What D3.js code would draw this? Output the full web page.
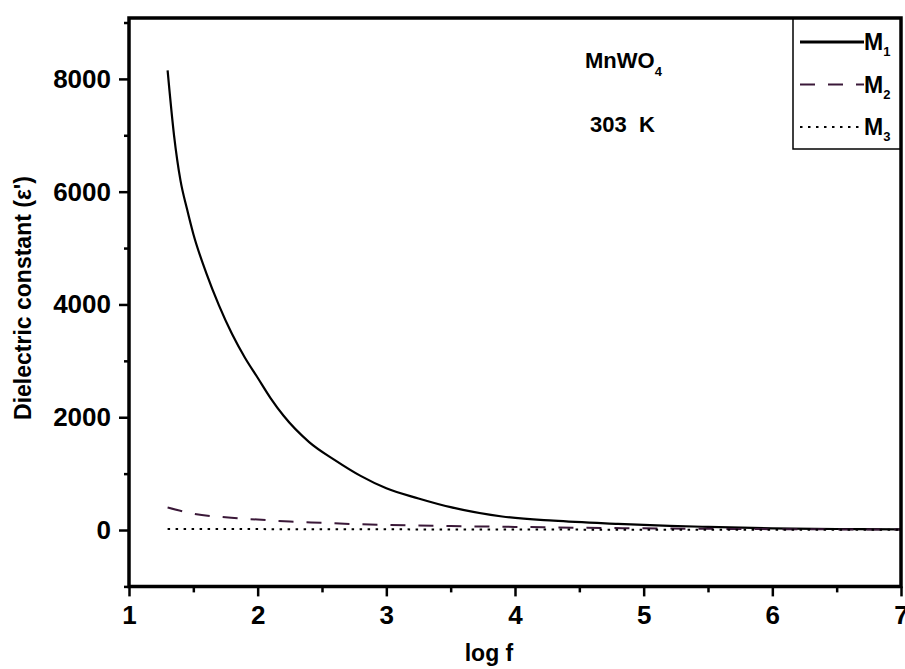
<!DOCTYPE html>
<html>
<head>
<meta charset="utf-8">
<script src="https://cdn.jsdelivr.net/npm/d3@7"></script>
<style>
  body { margin: 0; background: #fff; }
  svg { display: block; font-family: "Liberation Sans", Arial, sans-serif; font-weight: bold; }
</style>
</head>
<body>
<div id="chart"></div>
<script>
const width = 905, height = 669;

// log f values and dielectric constant for each sample
const m1_logf = [1.3, 1.35, 1.4, 1.45, 1.5, 1.6, 1.7, 1.8, 1.9, 2.0, 2.1, 2.2, 2.4, 2.6, 2.8, 3.0, 3.25, 3.5, 3.9, 4.3, 4.8, 5.2, 5.5, 6.0, 6.5, 7.0];
const m1_eps  = [8150, 7000, 6200, 5700, 5250, 4560, 3980, 3480, 3060, 2700, 2340, 2030, 1560, 1240, 960, 740, 560, 405, 240, 165, 110, 75, 55, 30, 18, 10];

const m2_logf = [1.3, 1.5, 1.75, 2.0, 2.25, 2.5, 2.75, 3.0, 3.5, 4.0, 4.5, 5.0, 6.0, 7.0];
const m2_eps  = [400, 290, 225, 185, 150, 128, 105, 92, 70, 55, 40, 30, 15, 8];

const m3_logf = [1.3, 2.0, 3.0, 4.0, 5.0, 6.0, 7.0];
const m3_eps  = [20, 16, 12, 8, 6, 4, 3];

const x_ticks = [1, 2, 3, 4, 5, 6, 7];
const y_ticks = [0, 2000, 4000, 6000, 8000];

const series = [
  {name: 'M', sub: '1', xs: m1_logf, ys: m1_eps, dash: null,      color: '#000',    sw: 2.2},
  {name: 'M', sub: '2', xs: m2_logf, ys: m2_eps, dash: '15,13',   color: '#3a1838', sw: 2},
  {name: 'M', sub: '3', xs: m3_logf, ys: m3_eps, dash: '2.5,5.5', color: '#000',    sw: 2},
];

const plot = {left: 129, right: 901, top: 18, bottom: 586.4};

const x = d3.scaleLinear().domain([1, 7]).range([plot.left, plot.right]);
const y = d3.scaleLinear().domain([-1000, 9080]).range([plot.bottom, plot.top]);

const svg = d3.select('#chart').append('svg')
  .attr('width', width)
  .attr('height', height);

// curves
const line = d3.line()
  .x(d => x(d[0]))
  .y(d => y(d[1]))
  .curve(d3.curveMonotoneX);

series.forEach(s => {
  svg.append('path')
    .datum(s.xs.map((v, i) => [v, s.ys[i]]))
    .attr('d', line)
    .attr('fill', 'none')
    .attr('stroke', s.color)
    .attr('stroke-width', s.sw)
    .attr('stroke-dasharray', s.dash);
});

// axes: major ticks with labels, then minor ticks at the half steps
svg.append('g')
  .attr('transform', `translate(${plot.left},0)`)
  .call(d3.axisLeft(y).tickValues(y_ticks).tickFormat(d3.format('d'))
    .tickSize(10).tickPadding(8).tickSizeOuter(0));
svg.append('g')
  .attr('transform', `translate(${plot.left},0)`)
  .call(d3.axisLeft(y).tickValues([-1000, 1000, 3000, 5000, 7000, 9000]).tickSize(5).tickFormat('').tickSizeOuter(0));

svg.append('g')
  .attr('transform', `translate(0,${plot.bottom})`)
  .call(d3.axisBottom(x).tickValues(x_ticks).tickFormat(d3.format('d'))
    .tickSize(10).tickPadding(9).tickSizeOuter(0));
svg.append('g')
  .attr('transform', `translate(0,${plot.bottom})`)
  .call(d3.axisBottom(x).tickValues([1.5, 2.5, 3.5, 4.5, 5.5, 6.5]).tickSize(6).tickFormat('').tickSizeOuter(0));

svg.selectAll('.tick line').attr('stroke', '#000').attr('stroke-width', 2.5);
svg.selectAll('.domain').remove();
svg.selectAll('.tick text')
  .attr('fill', '#000')
  .style('font-size', '26px')
  .style('font-weight', 'bold');

// frame, drawn as one closed path
svg.append('path')
  .attr('d', `M${plot.left},${plot.top}H${plot.right}V${plot.bottom}H${plot.left}Z`)
  .attr('fill', 'none')
  .attr('stroke', '#000')
  .attr('stroke-width', 3.5);

// legend box in the top right corner
const legend = svg.append('g');
legend.append('rect')
  .attr('x', 793).attr('y', plot.top)
  .attr('width', plot.right - 793).attr('height', 149 - plot.top)
  .attr('fill', 'none').attr('stroke', '#000').attr('stroke-width', 1.5);

series.forEach((s, i) => {
  const ly = 42 + i * 42.5;
  legend.append('line')
    .attr('x1', 800).attr('x2', 864)
    .attr('y1', ly).attr('y2', ly)
    .attr('stroke', s.color)
    .attr('stroke-width', i === 0 ? 3 : 2.2)
    .attr('stroke-dasharray', s.dash);
  const t = legend.append('text')
    .attr('x', 864).attr('y', ly + 8)
    .style('font-size', '23px');
  t.append('tspan').text(s.name);
  t.append('tspan').attr('dy', 6).style('font-size', '13px').text(s.sub);
});

// annotations
const title = svg.append('text')
  .attr('x', 585).attr('y', 68)
  .style('font-size', '22px');
title.append('tspan').text('MnWO');
title.append('tspan').attr('dy', 8).style('font-size', '13px').text('4');

svg.append('text')
  .attr('x', 590).attr('y', 132)
  .style('font-size', '22px')
  .attr('xml:space', 'preserve')
  .text('303  K');

// axis labels
svg.append('text')
  .attr('transform', `translate(31,298) rotate(-90)`)
  .attr('text-anchor', 'middle')
  .style('font-size', '23px')
  .text("Dielectric constant (ε')");

svg.append('text')
  .attr('x', 489).attr('y', 661)
  .attr('text-anchor', 'middle')
  .style('font-size', '23px')
  .text('log f');
</script>
</body>
</html>
